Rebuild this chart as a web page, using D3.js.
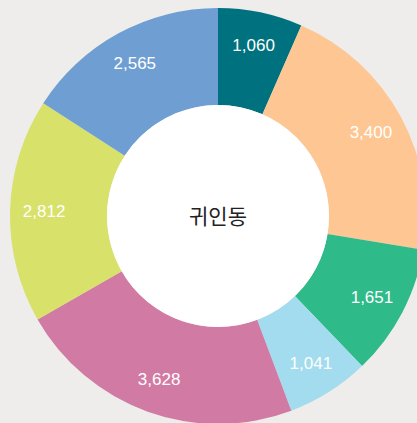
<!DOCTYPE html>
<html>
<head>
<meta charset="utf-8">
<script src="https://cdn.jsdelivr.net/npm/d3@7"></script>
<style>
  html, body { margin: 0; padding: 0; background: #eeedeb; }
  svg { display: block; }
</style>
</head>
<body>
<svg id="donut"></svg>
<script>
const labels = ['1,060', '3,400', '1,651', '1,041', '3,628', '2,812', '2,565'];
const values = [1060, 3400, 1651, 1041, 3628, 2812, 2565];
const colors = ['#00727f', '#fdc692', '#2fba89', '#a3dcee', '#d17ba4', '#d8e16a', '#6f9ed3'];
const centerTitle = '귀인동';

const width = 417;
const height = 423;
const cx = 218;
const cy = 216;
const outerR = 208;
const innerR = 111;
const labelR = 174;

const svg = d3.select('#donut')
    .attr('width', width)
    .attr('height', height);

svg.append('rect')
    .attr('width', width)
    .attr('height', height)
    .attr('fill', '#eeedeb');

const g = svg.append('g')
    .attr('transform', `translate(${cx}, ${cy})`);

const pie = d3.pie().sort(null).value((d) => d);
const arcs = pie(values);

const arc = d3.arc().innerRadius(innerR).outerRadius(outerR);
const labelArc = d3.arc().innerRadius(labelR).outerRadius(labelR);

g.selectAll('.slice')
    .data(arcs)
    .enter()
    .append('path')
    .attr('class', 'slice')
    .attr('d', arc)
    .attr('fill', (d, i) => colors[i]);

g.append('circle')
    .attr('r', innerR)
    .attr('fill', '#ffffff');

g.selectAll('.label')
    .data(arcs)
    .enter()
    .append('text')
    .attr('class', 'label')
    .attr('transform', (d) => `translate(${labelArc.centroid(d)})`)
    .attr('text-anchor', 'middle')
    .attr('dominant-baseline', 'central')
    .style('font-family', '"Liberation Sans", Arial, sans-serif')
    .style('font-size', '17px')
    .style('fill', '#ffffff')
    .text((d, i) => labels[i]);

g.append('text')
    .attr('text-anchor', 'middle')
    .attr('dominant-baseline', 'central')
    .attr('y', -1)
    .style('font-family', '"Noto Sans CJK KR", sans-serif')
    .style('font-size', '21px')
    .style('fill', '#222222')
    .text(centerTitle);
</script>
</body>
</html>
